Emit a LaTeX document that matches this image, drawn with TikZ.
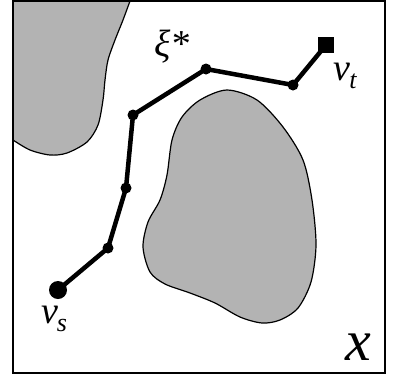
\documentclass[tikz,border=0pt]{standalone}
\usepackage{fontspec}
\setmainfont{Liberation Serif}
\newfontfamily\lblfont{Liberation Serif}
\usetikzlibrary{positioning,calc}
\definecolor{obstgray}{HTML}{B3B3B3}
\tikzset{
  waypt/.style={circle,fill=black,inner sep=0pt,minimum size=11pt},
  startpt/.style={circle,fill=black,inner sep=0pt,minimum size=18pt},
  goalpt/.style={rectangle,fill=black,inner sep=0pt,minimum size=16pt},
  route/.style={line width=4.5pt,line join=round},
  obst/.style={fill=obstgray},
  lbl/.style={font=\lblfont\itshape\fontsize{38}{40}\selectfont,inner sep=0pt}
}

\begin{document}
\begin{tikzpicture}[x=1pt,y=-1pt]
  \useasboundingbox (0,0) rectangle (393,375);
  % left obstacle
  \fill[obst] (13,1) -- plot[smooth] coordinates {(130,1) (123,20) (115,40) (108,60) (105,80) (103,100) (98,125) (87,142) (67,153) (50,155) (30,150) (13,140)} -- cycle;
  \draw[line width=1.2pt] plot[smooth] coordinates {(130,1) (123,20) (115,40) (108,60) (105,80) (103,100) (98,125) (87,142) (67,153) (50,155) (30,150) (13,140)};
  % right obstacle
  \filldraw[obst,draw=black,line width=1.2pt] plot[smooth cycle] coordinates {(227,90) (257,100) (283,127) (303,160) (312,200) (316,245) (311,282) (298,308) (280,320) (262,323) (240,317) (215,303) (190,293) (165,284) (150,272) (143,247) (148,222) (160,200) (167,175) (172,140) (182,117) (200,100)};
  % frame
  \draw[line width=2pt] (13,1) rectangle (385,373);
  % path nodes
  \node[startpt] (vs) at (58,290) {};
  \node[waypt] (p1) at (108,248) {};
  \node[waypt] (p2) at (126,188) {};
  \node[waypt] (p3) at (133,115) {};
  \node[waypt] (p4) at (206,69) {};
  \node[waypt] (p5) at (293,85) {};
  \node[goalpt] (vt) at (326,45) {};
  \draw[route] (vs.center) -- (p1.center) -- (p2.center) -- (p3.center) -- (p4.center) -- (p5.center) -- (vt.center);
  % labels
  \node[lbl] (xi) at (172,47) {ξ*};
  \node[lbl] (vtl) at (345,76) {v\kern-1pt\raisebox{-8pt}{\fontsize{26}{28}\selectfont t}};
  \node[lbl] (vsl) at (54,319) {v\kern-1pt\raisebox{-8pt}{\fontsize{26}{28}\selectfont s}};
  \node[lbl,font=\lblfont\itshape\fontsize{58}{60}\selectfont] (xl) at (358,347) {x};
\end{tikzpicture}
\end{document}
